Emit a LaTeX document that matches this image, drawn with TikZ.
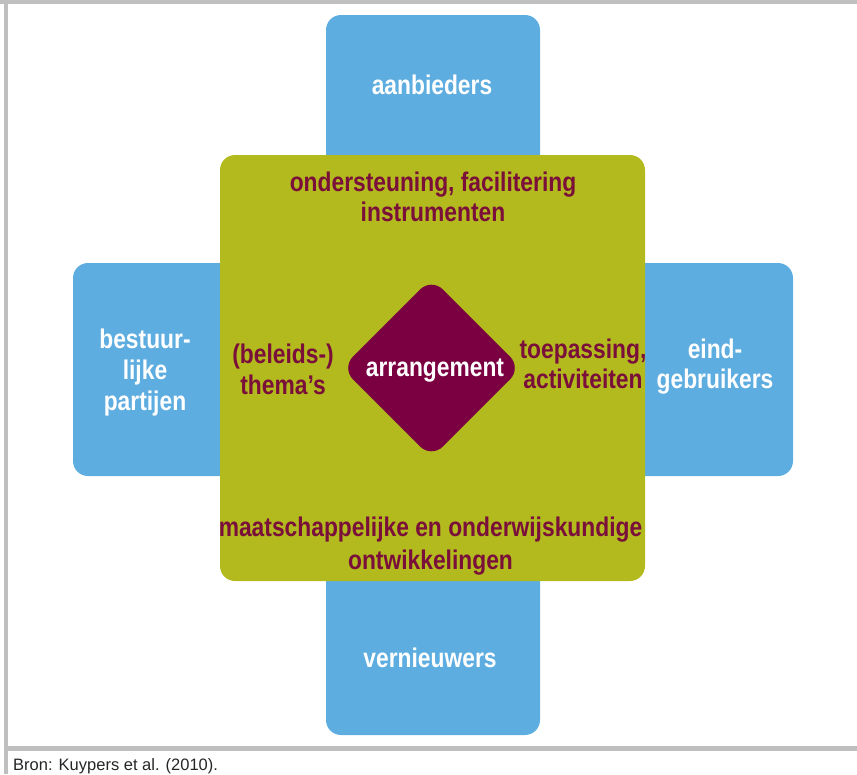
\documentclass[tikz,border=0pt]{standalone}
\usepackage{fontspec}
\setmainfont{Liberation Sans}
\newfontfamily\condfont{Liberation Sans}[FakeStretch=0.845]
\usetikzlibrary{shapes.geometric}
\definecolor{cblue}{HTML}{5EADE0}
\definecolor{cgreen}{HTML}{B2BA1E}
\definecolor{cmaroon}{HTML}{7A0042}
\definecolor{ctext}{HTML}{7A0F3A}
\definecolor{cframe}{HTML}{BFBFBF}
\begin{document}
\begin{tikzpicture}[x=1pt,y=-1pt,
  bluebox/.style={fill=cblue, draw=none, rounded corners=15pt, inner sep=0pt},
  greenbox/.style={fill=cgreen, draw=none, rounded corners=15pt, inner sep=0pt},
  centrebox/.style={diamond, aspect=1, fill=cmaroon, draw=none, rounded corners=16pt, inner sep=0pt, minimum size=180pt},
  whitelbl/.style={text=white, font=\condfont\bfseries\fontsize{27}{30.5}\selectfont, align=center, inner sep=0pt},
  redlbl/.style={text=ctext, font=\condfont\bfseries\fontsize{27}{30.5}\selectfont, align=center, inner sep=0pt}]
\useasboundingbox (0,0) rectangle (857,774);
% frame
\fill[cframe] (0,0) rectangle (857,4);
\fill[cframe] (3.5,0) rectangle (7.5,774);
\fill[cframe] (4,746) rectangle (857,751);
% blue boxes
\node[bluebox, minimum width=214pt, minimum height=185pt] (top) at (433,107.5) {};
\node[bluebox, minimum width=214pt, minimum height=195pt] (bottom) at (433,637.5) {};
\node[bluebox, minimum width=187pt, minimum height=213pt] (left) at (166.5,369.5) {};
\node[bluebox, minimum width=193pt, minimum height=213pt] (right) at (696.5,369.5) {};
% green square
\node[greenbox, minimum width=425pt, minimum height=426pt] (green) at (432.5,368) {};
% diamond
\node[centrebox] (centre) at (431.5,368) {};
% labels
\node[whitelbl, anchor=base] (laan) at (432,94) {aanbieders};
\node[whitelbl, anchor=base] (lver) at (430,667) {vernieuwers};
\node[whitelbl, font=\condfont\bfseries\fontsize{27}{31}\selectfont] (lbes) at (145,373) {bestuur-\\lijke\\partijen};
\node[whitelbl] (leind) at (715,366.7) {eind-\\gebruikers};
\node[whitelbl, anchor=base] (larr) at (435,376) {arrangement};
\node[redlbl] (lond) at (433,196.9) {ondersteuning, facilitering\\instrumenten};
\node[redlbl] (lbel) at (283,369.2) {(beleids-)\\thema’s};
\node[redlbl] (ltoe) at (583,363.9) {toepassing,\\activiteiten};
\node[redlbl, font=\condfont\bfseries\fontsize{27}{32.5}\selectfont] (lmaa) at (430.5,546) {maatschappelijke en onderwijskundige\\ontwikkelingen};
% caption
\node[anchor=base west, inner sep=0pt, font=\fontsize{16.5}{20}\selectfont, text=black!85] (bron) at (13,770) {Bron: Kuypers et al. (2010).};
\end{tikzpicture}
\end{document}
